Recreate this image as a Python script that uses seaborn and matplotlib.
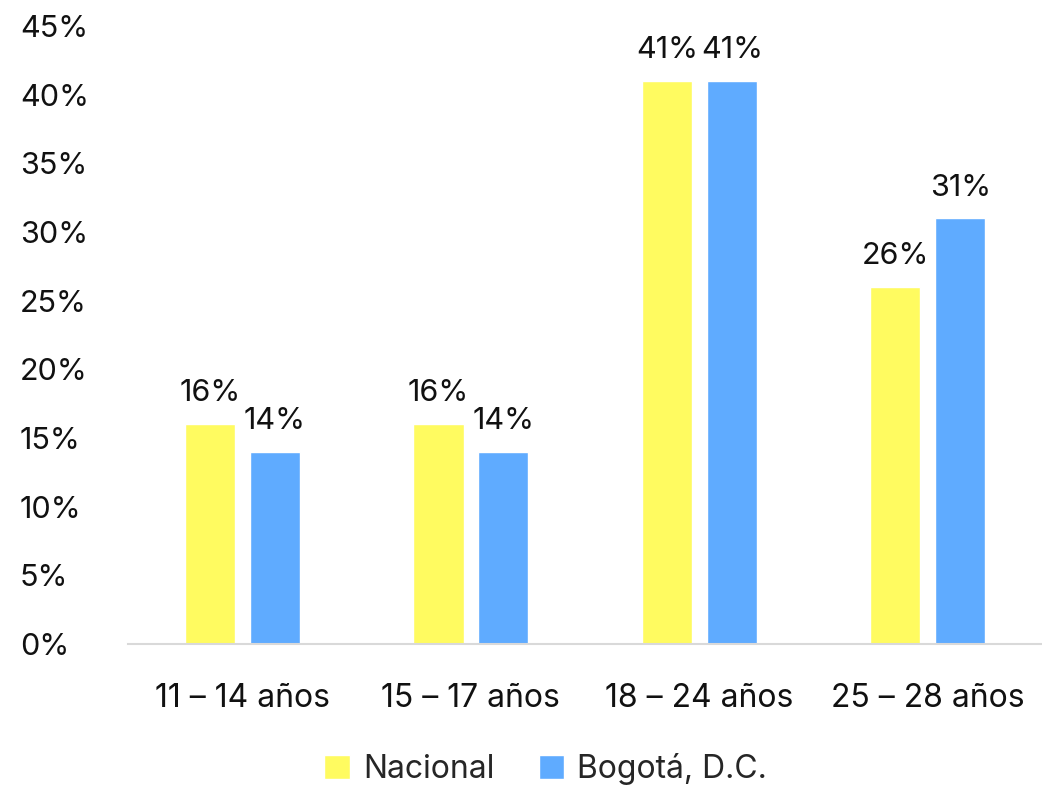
import matplotlib
matplotlib.use("Agg")
import matplotlib.pyplot as plt
import seaborn as sns
import pandas as pd

# data
grupos = ["11 – 14 años", "15 – 17 años", "18 – 24 años", "25 – 28 años"]
nacional = [16, 16, 41, 26]
bogota = [14, 14, 41, 31]
series = ["Nacional", "Bogotá, D.C."]
colores = ["#FFFB60", "#5FABFF"]

df = pd.DataFrame({
    "grupo": grupos * 2,
    "valor": [v / 100 for v in nacional + bogota],
    "serie": [series[0]] * len(grupos) + [series[1]] * len(grupos),
})

sns.set_theme(style="white")
plt.rcParams["font.family"] = ["Inter", "DejaVu Sans"]

fig = plt.figure(figsize=(10.42, 7.88), dpi=100)
ax = fig.add_axes([0.123, 0.183, 0.877, 0.784])

sns.barplot(data=df, x="grupo", y="valor", hue="serie", order=grupos,
            hue_order=series, palette=colores, width=0.568, gap=0.225,
            saturation=1, ax=ax)

for cont in ax.containers:
    ax.bar_label(cont, labels=[f"{b.get_height() * 100:.0f}%" for b in cont],
                 fontsize=22, padding=12, color="#111111")

ax.set_ylim(0, 0.45)
ax.set_xlim(-0.5, 3.5)
ax.set_yticks([i / 100 for i in range(0, 46, 5)])
ax.set_yticklabels([f"{i}%" for i in range(0, 46, 5)])
ax.tick_params(axis="y", labelsize=22, length=0, pad=78, colors="#111111")
ax.tick_params(axis="x", labelsize=23, length=0, pad=28, colors="#111111")
for lab in ax.get_yticklabels():
    lab.set_horizontalalignment("left")
ax.set_xlabel("")
ax.set_ylabel("")
for s in ["top", "right", "left"]:
    ax.spines[s].set_visible(False)
ax.spines["bottom"].set_color("#D9D9D9")
ax.spines["bottom"].set_linewidth(1.5)

ax.legend(loc="upper center", bbox_to_anchor=(0.457, -0.13), ncol=2,
          frameon=False, fontsize=23, handlelength=0.8, handleheight=0.8,
          columnspacing=1.4, handletextpad=0.4)

fig.savefig("out.png", dpi=100)
